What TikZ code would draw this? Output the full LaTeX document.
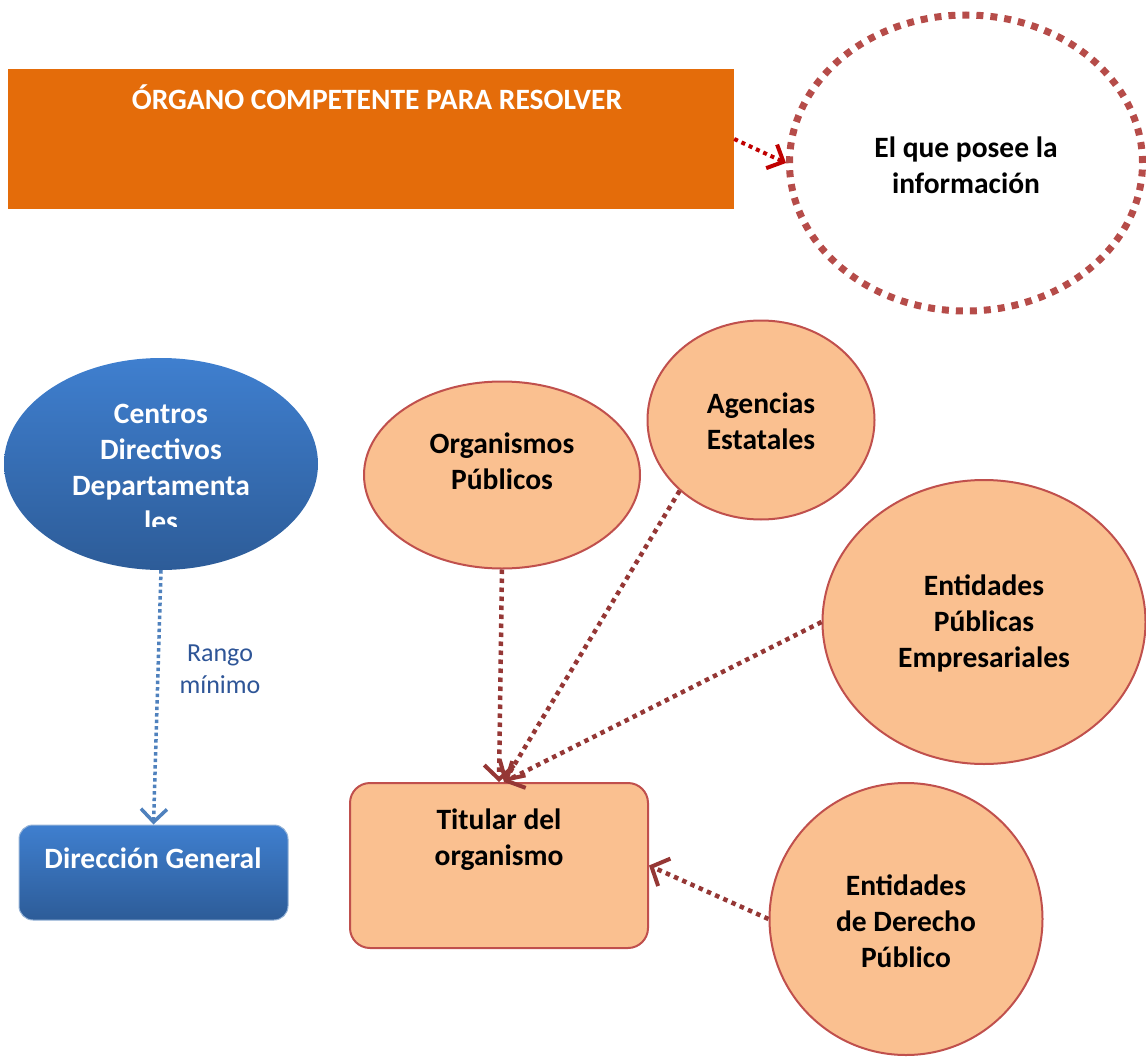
\documentclass[tikz,border=0pt]{standalone}
\usepackage{fontspec}
\setmainfont{Carlito}
\usetikzlibrary{shapes.geometric,arrows.meta}
\definecolor{naranja}{HTML}{E46C0A}
\definecolor{melocoton}{HTML}{FAC090}
\definecolor{borde}{HTML}{C0504D}
\definecolor{flecha}{HTML}{953735}
\definecolor{rojo}{HTML}{C00000}
\definecolor{azulA}{HTML}{3F7FCF}
\definecolor{azulB}{HTML}{2D5C98}
\definecolor{azulL}{HTML}{4F81BD}
\definecolor{azulT}{HTML}{2E5597}
\tikzset{
  txt/.style={font=\fontsize{29.5}{36}\selectfont\bfseries,align=center,inner sep=0pt},
  peach/.style={draw=borde,fill=melocoton,line width=2pt,inner sep=0pt},
  azul/.style={top color=azulA,bottom color=azulB,inner sep=0pt},
  punteada/.style={flecha,line width=4.5pt,dash pattern=on 4.5pt off 4.5pt,
    -{Straight Barb[length=14pt,width=30pt,line width=4pt]}}
}
\begin{document}
\begin{tikzpicture}[x=1pt,y=-1pt]
        \useasboundingbox (0,0) rectangle (1146,1057);
        % parte superior
        \node[fill=naranja,minimum width=726pt,minimum height=140pt,inner sep=0pt] (organo) at (371,139) {};
        \node[txt,white] (organoT) at (377,97) {ÓRGANO COMPETENTE PARA RESOLVER};
        \node[ellipse,draw=borde!95!black,line width=7pt,dash pattern=on 7pt off 7pt,
              minimum width=353pt,minimum height=296pt,inner sep=0pt] (posee) at (966,163) {};
        \node[txt] (poseeT) at (966,165) {El que posee la\\información};
        \draw[rojo,line width=4pt,dash pattern=on 4pt off 4pt,
              -{Straight Barb[length=13pt,width=26pt,line width=4pt]}] (organo.east) -- (posee.west);
        % rama izquierda
        \node[ellipse,azul,minimum width=314pt,minimum height=212pt] (centros) at (161,464) {};
        \begin{scope}
          \clip (0,340) rectangle (330,526);
          \node[txt,white] (centrosT) at (161,468) {Centros\\Directivos\\Departamenta\\les};
        \end{scope}
        \node[azul,draw=azulL!60,line width=1pt,rounded corners=14pt,minimum width=269pt,minimum height=95pt] (direccion) at (153.5,872.5) {};
        \node[txt,white] (direccionT) at (153,858) {Dirección General};
        \draw[azulL,line width=3.5pt,dash pattern=on 3.5pt off 3pt,
              -{Straight Barb[length=13pt,width=26pt,line width=3.5pt]}] (centros.south) -- (direccion.north);
        \node[font=\fontsize{26}{32}\selectfont,text=azulT,align=center,inner sep=0pt] (rango) at (220,669) {Rango\\mínimo};
        % organismos
        \node[ellipse,peach,minimum width=276pt,minimum height=187pt] (organismos) at (502,475) {};
        \node[txt] (organismosT) at (502,461) {Organismos\\Públicos};
        \node[ellipse,peach,minimum width=227pt,minimum height=199pt] (agencias) at (761,420) {};
        \node[txt] (agenciasT) at (761,421) {Agencias\\Estatales};
        \node[ellipse,peach,minimum width=323pt,minimum height=284pt] (epe) at (984,622) {};
        \node[txt] (epeT) at (984,623) {Entidades\\Públicas\\Empresariales};
        \node[ellipse,peach,minimum width=273pt,minimum height=272pt] (edp) at (906,919) {};
        \node[txt] (edpT) at (906,921) {Entidades\\de Derecho\\Público};
        \node[peach,rounded corners=20pt,minimum width=298pt,minimum height=165pt] (titular) at (499,865.5) {};
        \node[txt] (titularT) at (499,840) {Titular del\\organismo};
        \draw[punteada] (organismos.south) -- (titular.north);
        \draw[punteada] (agencias.221) -- ([xshift=5pt]titular.north);
        \draw[punteada] (epe.west) -- ([xshift=5pt]titular.north);
        \draw[punteada] (edp.west) -- (titular.east);
      \end{tikzpicture}
\end{document}
